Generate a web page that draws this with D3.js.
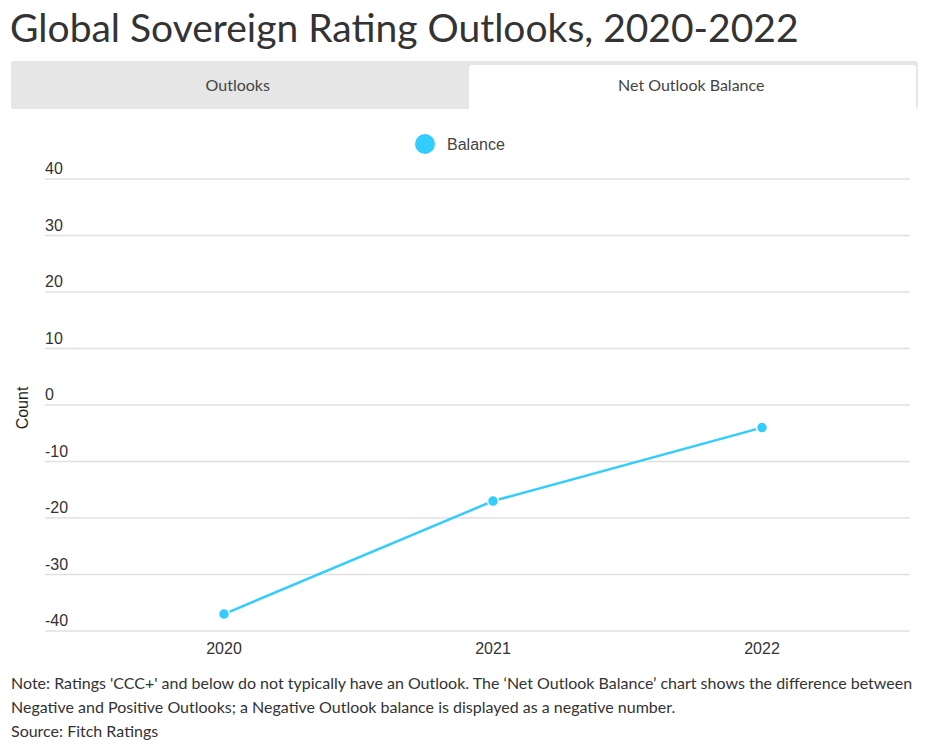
<!DOCTYPE html>
<html><head><meta charset="utf-8">
<script src="https://cdn.jsdelivr.net/npm/d3@7"></script>
<style>
body{margin:0;background:#fff;font-family:Lato,sans-serif;}
svg text{font-family:"Liberation Sans",Arial,sans-serif;}
</style></head>
<body><svg id="c" width="937" height="748"></svg>
<script>
const years = ["2020","2021","2022"];
const balance = [-37, -17, -4];
const yTicks = [40,30,20,10,0,-10,-20,-30,-40];
const tabs = ["Outlooks","Net Outlook Balance"];
const notes = [
 "Note: Ratings 'CCC+' and below do not typically have an Outlook. The \u2018Net Outlook Balance\u2019 chart shows the difference between",
 "Negative and Positive Outlooks; a Negative Outlook balance is displayed as a negative number.",
 "Source: Fitch Ratings"
];
const color = "#33ccff";
const svg = d3.select("#c");

svg.append("text").attr("x",10).attr("y",42).text("Global Sovereign Rating Outlooks, 2020-2022")
 .style("font-family","Lato").style("font-size","39px").attr("fill","#333");

// tabs
svg.append("rect").attr("x",11).attr("y",61).attr("width",907).attr("height",48).attr("fill","#e6e6e6").attr("rx",3);
svg.append("path").attr("d","M469,109 V68 Q469,65 472,65 H913 Q916,65 916,68 V109 Z").attr("fill","#fff");
const tabX = d3.scaleBand().domain(tabs).range([11,918]);
svg.selectAll(".tab").data(tabs).join("text").attr("class","tab")
 .attr("x",d=>tabX(d)+tabX.bandwidth()/2).attr("y",91).attr("text-anchor","middle")
 .style("font-family","Lato").style("font-size","16px").attr("fill","#444").text(d=>d);

// chart
const y = d3.scaleLinear().domain([-40,40]).range([631,179]);
const x = d3.scalePoint().domain(years).range([224,762]);
const gx0 = 45, gx1 = 910;

const g = svg.append("g");
g.selectAll(".grid").data(yTicks).join("line").attr("x1",gx0).attr("x2",gx1)
 .attr("y1",d=>y(d)).attr("y2",d=>y(d)).attr("stroke","#e0e0e0").attr("stroke-width",1.3);
g.selectAll(".yl").data(yTicks).join("text").attr("x",gx0).attr("y",d=>y(d)-5)
 .style("font-size","16px").attr("fill","#333").text(d=>d);
g.selectAll(".xl").data(years).join("text").attr("x",d=>x(d)).attr("y",654).attr("text-anchor","middle")
 .style("font-size","16px").attr("fill","#333").text(d=>d);
g.append("text").attr("transform","translate(28,408) rotate(-90)").attr("text-anchor","middle")
 .style("font-size","16px").attr("fill","#222").text("Count");

const data = years.map((d,i)=>({year:d,v:balance[i]}));
g.append("path").datum(data).attr("fill","none").attr("stroke",color).attr("stroke-width",2.5)
 .attr("d",d3.line().x(d=>x(d.year)).y(d=>y(d.v)));
g.selectAll(".pt").data(data).join("circle").attr("cx",d=>x(d.year)).attr("cy",d=>y(d.v)).attr("r",5.5)
 .attr("fill",color).attr("stroke","#fff").attr("stroke-width",1.5);

// legend
svg.append("circle").attr("cx",425).attr("cy",144).attr("r",10).attr("fill",color);
svg.append("text").attr("x",447).attr("y",149.5).style("font-size","16px").attr("fill","#444").text("Balance");

// notes
svg.selectAll(".note").data(notes).join("text").attr("x",11).attr("y",(d,i)=>689+i*24)
 .style("font-family","Lato").style("font-size","16px").attr("fill","#333").text(d=>d);
</script></body></html>
